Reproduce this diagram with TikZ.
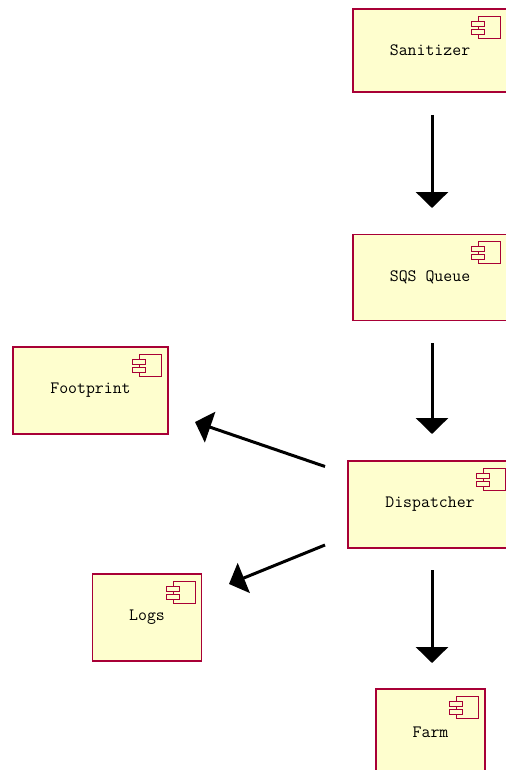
\documentclass[tikz,border=0pt]{standalone}
\usetikzlibrary{arrows.meta,calc}
\definecolor{compfill}{HTML}{FEFECE}
\definecolor{compline}{HTML}{A80036}
\tikzset{
  comp/.style={draw=compline, fill=compfill, line width=0.9pt, rectangle, inner sep=0pt,
    font=\ttfamily\fontsize{13}{15}\selectfont, text=black},
  flow/.style={line width=2.25pt, -{Triangle[length=12pt,width=24pt]}},
  iconbox/.style={draw=compline, fill=compfill, line width=0.75pt},
}
% \compicon{node}: component glyph at top-right of a node
\newcommand{\compicon}[1]{%
  \draw[iconbox] ($(#1.north east)+(-29,8)$) rectangle ($(#1.north east)+(-7,30)$);
  \draw[iconbox] ($(#1.north east)+(-36,13)$) rectangle ($(#1.north east)+(-23,18)$);
  \draw[iconbox] ($(#1.north east)+(-36,21)$) rectangle ($(#1.north east)+(-23,26)$);
}
\begin{document}
\begin{tikzpicture}[x=0.75pt,y=-0.75pt]
\useasboundingbox (0,0) rectangle (506,770);
\clip (0,0) rectangle (506,770);
\node[comp, minimum width=115.5pt, minimum height=62.25pt] (san) at (430,50.5) {Sanitizer};
\node[comp, minimum width=115.5pt, minimum height=64.5pt] (sqs) at (430,277.2) {SQS Queue};
\node[comp, minimum width=116.25pt, minimum height=65.25pt] (foot) at (90.5,390.5) {Footprint};
\node[comp, minimum width=123pt, minimum height=65.25pt] (disp) at (430,504.5) {Dispatcher};
\node[comp, minimum width=81.75pt, minimum height=65.25pt] (logs) at (147,617.5) {Logs};
\node[comp, minimum width=81.75pt, minimum height=65.25pt] (farm) at (430.5,732.5) {Farm};
\compicon{san}
\compicon{sqs}
\compicon{foot}
\compicon{disp}
\compicon{logs}
\compicon{farm}
% connector end points
\coordinate (sanOut) at (432,115);
\coordinate (sqsIn) at (432,208);
\coordinate (sqsOut) at (432,343);
\coordinate (dispIn) at (432,434);
\coordinate (dispOut) at (432,570);
\coordinate (farmIn) at (432,663);
\coordinate (dispF) at (325,466.5);
\coordinate (footIn) at (195,422);
\coordinate (dispL) at (325,545);
\coordinate (logsIn) at (229,584);
\draw[flow] (sanOut) -- (sqsIn);
\draw[flow] (sqsOut) -- (dispIn);
\draw[flow] (dispOut) -- (farmIn);
\draw[flow] (dispF) -- (footIn);
\draw[flow] (dispL) -- (logsIn);
\end{tikzpicture}
\end{document}
